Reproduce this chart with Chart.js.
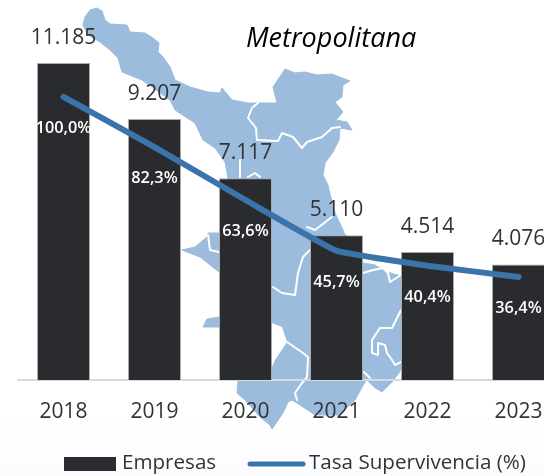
<!DOCTYPE html>
<html lang="es">
<head>
<meta charset="utf-8">
<title>Metropolitana</title>
<style>
html,body{margin:0;padding:0;width:544px;height:476px;overflow:hidden;background:#fff}
#stage{position:relative;width:544px;height:476px;overflow:hidden;background:linear-gradient(to bottom,#fff 0,#fff 410px,#fbfcfe 476px)}
#map{position:absolute;left:0;top:0}
#wrap{position:absolute;left:0;top:0;width:564px;height:476px}
</style>
<script src="https://cdn.jsdelivr.net/npm/chart.js@4/dist/chart.umd.min.js"></script>
</head>
<body>
<div id="stage">
<svg id="map" width="544" height="476" viewBox="0 0 544 476" aria-hidden="true">
<path fill="#9bbcdc" stroke="#9bbcdc" stroke-width="1" stroke-linejoin="round" d="M83,25 L85,17 L90,10 L97,8 L102,11 L105,20 L110,24 L127,25 L130,32 L145,33 L153,38 L159,43 L158,52 L163,57 L170,67 L175,80 L190,87 L208,92 L220,93 L222,88 L232,100 L248,103 L258,103 L277,103 L273,87 L285,69 L295,73 L305,72 L317,75 L332,74 L350,81 L343,85 L342,97 L335,102 L343,112 L336,120 L347,122 L352,130 L340,128 L339,140 L333,152 L325,163 L323,175 L328,185 L329,190 L335,213 L343,230 L344,233 L355,245 L363,263 L375,265 L387,272 L401,276 L405,280 L405,360 L399,373 L392,382 L382,392 L374,387 L367,380 L365,382 L355,400 L339,415 L315,415 L297,403 L292,400 L288,402 L283,413 L272,429 L270,425 L260,417 L245,400 L237,393 L238,380 L225,380 L225,340 L219,327 L203,327 L207,319 L219,317 L225,317 L225,280 L219,272 L200,257 L182,250 L195,247 L207,237 L208,233 L219,233 L225,232 L228,200 L228,178 L225,162 L215,148 L203,140 L195,123 L175,110 L170,100 L142,80 L122,72 L118,58 L110,50 L100,42 L88,35 Z"/>
<path fill="#fff" d="M272,323 L282,327 L287,342 L275,360 L272,367 Z"/>
<g fill="none" stroke="#fff" stroke-width="2" stroke-linejoin="round" stroke-linecap="round">
<path d="M258,103 L252,108 L248,118 L256,128 L257,140 L278,141 L282,133 L293,137 L302,148 L307,142 L322,137 L332,128 L340,127"/>
<path d="M240,160 L240,177 M248,177 L255,173 L260,177"/>
<path d="M208,235 L210,250 L219,252"/>
<path d="M273,287 L282,293 L295,295 L298,273 L303,257 L310,250"/>
<path d="M287,342 L303,353 L308,357 L307,377 L302,383 L295,393 L297,400"/>
<path d="M307,227 L315,230 L328,220 L332,217"/>
<path d="M363,273 L373,270 L383,268 L388,273 L390,282 L401,275"/>
<path d="M401,310 L392,328 L380,328 L372,340 L372,353 L378,355 L378,343 L385,345 L387,353 L392,360 L395,365 L401,362"/>
<path d="M364,372 L370,378"/>
</g>
</svg>
<div id="wrap"><canvas id="c" width="564" height="476"></canvas></div>
</div>
<script>
const categories = ["2018","2019","2020","2021","2022","2023"];
const empresas = [11185,9207,7117,5110,4514,4076];
const supervivencia = [100.0,82.3,63.6,45.7,40.4,36.4];
const empresasLabels = ["11.185","9.207","7.117","5.110","4.514","4.076"];
const supervivenciaLabels = ["100,0%","82,3%","63,6%","45,7%","40,4%","36,4%"];
const seriesNames = ["Empresas","Tasa Supervivencia (%)"];
const chartTitle = "Metropolitana";
const barColor = "#2a2b2f", lineColor = "#3a74aa", textColor = "#333336";
const FONT = '"Open Sans", sans-serif';

const labelsPlugin = {
  id: "labelsPlugin",
  afterDraw(chart) {
    const ctx = chart.ctx;
    const bars = chart.getDatasetMeta(1).data;
    const pts = chart.getDatasetMeta(0).data;
    ctx.save();
    ctx.textAlign = "center";
    ctx.textBaseline = "middle";
    ctx.fillStyle = textColor;
    ctx.font = "400 21px " + FONT;
    bars.forEach((b, i) => ctx.fillText(empresasLabels[i], b.x, b.y - 25));
    ctx.fillStyle = "#fff";
    ctx.font = "600 16.3px " + FONT;
    pts.forEach((p, i) => ctx.fillText(supervivenciaLabels[i], p.x, p.y + 31.5));
    // title
    ctx.fillStyle = "#000";
    ctx.font = "italic 27px " + FONT;
    ctx.textAlign = "left";
    ctx.fillText(chartTitle, 246, 39);
    // legend
    ctx.font = "400 20.6px " + FONT;
    ctx.fillStyle = barColor;
    ctx.fillRect(64, 457, 52, 14);
    ctx.fillStyle = textColor;
    ctx.fillText(seriesNames[0], 122, 463);
    ctx.strokeStyle = lineColor;
    ctx.lineWidth = 5;
    ctx.lineCap = "round";
    ctx.beginPath();
    ctx.moveTo(250, 464);
    ctx.lineTo(303, 464);
    ctx.stroke();
    ctx.fillText(seriesNames[1], 309, 463);
    ctx.restore();
  }
};

new Chart(document.getElementById("c"), {
  type: "bar",
  data: {
    labels: categories,
    datasets: [
      { type: "line", label: seriesNames[1], data: supervivencia, yAxisID: "y1", order: 0,
        borderColor: lineColor, borderWidth: 6, borderCapStyle: "round", borderJoinStyle: "round",
        pointRadius: 0, tension: 0.1, fill: false },
      { type: "bar", label: seriesNames[0], data: empresas, yAxisID: "y", order: 1,
        backgroundColor: barColor, borderColor: "#a9aaac", borderWidth: {top:1,left:1,right:1,bottom:0},
        categoryPercentage: 1, barPercentage: 53/91 }
    ]
  },
  options: {
    responsive: false,
    animation: false,
    layout: { padding: { left: 18, right: 0, top: 20, bottom: 0 } },
    plugins: { legend: { display: false }, title: { display: false }, tooltip: { enabled: false } },
    scales: {
      x: {
        grid: { display: false, drawTicks: false },
        border: { color: "#d9d9d9", width: 2 },
        ticks: { color: textColor, font: { family: FONT, size: 21, weight: 400 }, padding: 19, maxRotation: 0 },
        afterFit(s) { s.height = 96; }
      },
      y: { display: false, min: 0, max: 12700 },
      y1: { display: false, min: 0, max: 127.2 }
    }
  },
  plugins: [labelsPlugin]
});
</script>
</body>
</html>
